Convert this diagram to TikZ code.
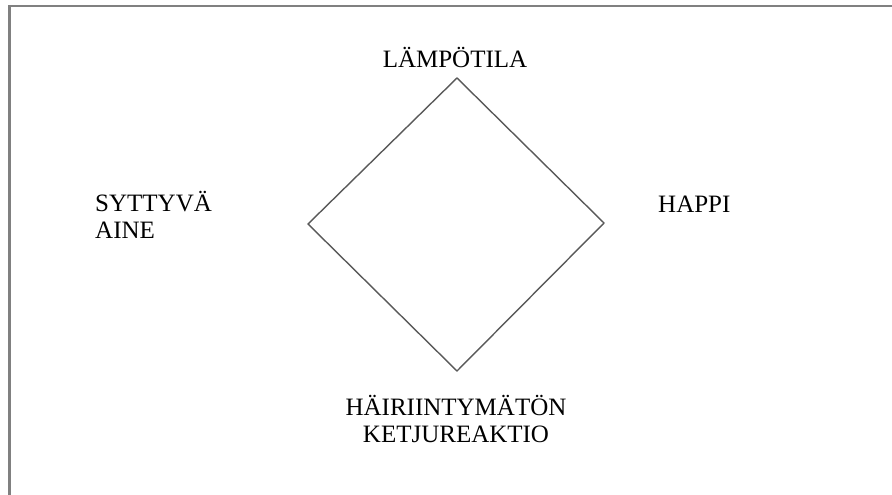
\documentclass[tikz,border=0pt]{standalone}
\usepackage{fontspec}
\setmainfont{Liberation Serif}
\begin{document}
\begin{tikzpicture}[x=1pt,y=-1pt,
  frameline/.style={draw=black!50,line width=2.4pt},
  edgeline/.style={draw=black!65,line width=1.4pt,line join=miter},
  lbl/.style={inner sep=0pt,font=\fontsize{25}{27.5}\selectfont,text=black}]
  \useasboundingbox (0,0) rectangle (892,495);
  % outer frame (only top and left edges fall inside the page)
  \draw[frameline] (9.5,497) -- (9.5,6) -- (894,6);
  % the four corners of the fire diamond
  \coordinate (top) at (457,78);
  \coordinate (right) at (604,223);
  \coordinate (bottom) at (457,371);
  \coordinate (left) at (308,224);
  \draw[edgeline] (top) -- (right) -- (bottom) -- (left) -- cycle;
  % labels (multi-line nodes are placed by the baseline of their last line)
  \node[lbl,anchor=base] (temp) at (455,67) {LÄMPÖTILA};
  \node[lbl,anchor=base west] (oxy) at (658,212) {HAPPI};
  \node[lbl,anchor=base west,align=left] (fuel) at (95,238.5) {SYTTYVÄ\\AINE};
  \node[lbl,anchor=base,align=center] (chain) at (456,442.5) {HÄIRIINTYMÄTÖN\\KETJUREAKTIO};
\end{tikzpicture}
\end{document}
